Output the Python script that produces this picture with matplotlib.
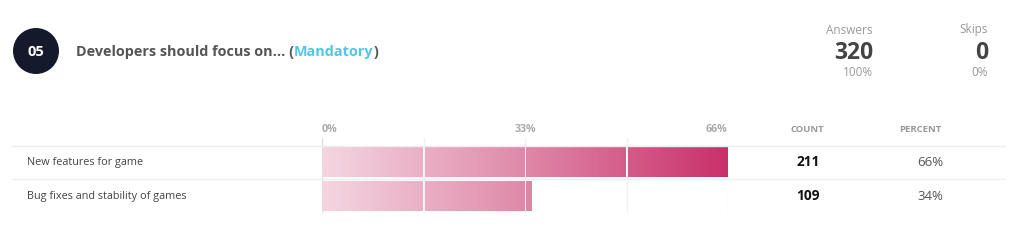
import matplotlib
matplotlib.use("Agg")
import matplotlib.pyplot as plt
import numpy as np
from matplotlib.patches import Rectangle, Ellipse
from matplotlib.lines import Line2D
from matplotlib.colors import LinearSegmentedColormap

# ---- data ----
question_no = "05"
title_main = "Developers should focus on... ("
title_tag = "Mandatory"
title_end = ")"
categories = ["New features for game", "Bug fixes and stability of games"]
counts = [211, 109]
percent_labels = ["66%", "34%"]
tick_values = [0, 33, 66]
tick_labels = ["0%", "33%", "66%"]
answers = 320
answers_pct = "100%"
skips = 0
skips_pct = "0%"

W, H = 1023, 244
plt.rcParams['font.family'] = ['Open Sans', 'DejaVu Sans']
fig = plt.figure(figsize=(W / 100, H / 100), dpi=100)
fig.patch.set_facecolor("white")


def fx(x):
    return x / W


def fy(y):
    return 1 - y / H


# ---- header: circle + title ----
fig.add_artist(Ellipse((fx(36), fy(51)), 46 / W, 46 / H, transform=fig.transFigure,
                       facecolor="#141a2b", edgecolor="none"))
fig.text(fx(36), fy(52), question_no, color="white", fontsize=10.5, fontweight="bold",
         ha="center", va="center")

ts = 10.4
t1 = fig.text(fx(76), fy(52), title_main, color="#555555", fontsize=ts,
              fontweight="bold", ha="left", va="center")
fig.canvas.draw()
r = fig.canvas.get_renderer()
bb = t1.get_window_extent(r)
t2 = fig.text(bb.x1 / W, fy(52), title_tag, color="#4ec8e6", fontsize=ts,
              fontweight="bold", ha="left", va="center")
bb2 = t2.get_window_extent(r)
fig.text(bb2.x1 / W, fy(52), title_end, color="#555555", fontsize=ts,
         fontweight="bold", ha="left", va="center")

# ---- answers / skips ----
for xr, lab, val, pct in [(873, "Answers", answers, answers_pct),
                          (988, "Skips", skips, skips_pct)]:
    fig.text(fx(xr), fy(30), lab, color="#999999", fontsize=8.5, ha="right", va="center")
    fig.text(fx(xr), fy(53), str(val), color="#444444", fontsize=16.5, fontweight="bold",
             ha="right", va="center")
    fig.text(fx(xr), fy(73), pct, color="#999999", fontsize=8.5, ha="right", va="center")

# ---- row separator lines ----
for yl in [145.5, 179]:
    fig.add_artist(Line2D([fx(12), fx(1005)], [fy(yl), fy(yl)], transform=fig.transFigure,
                          color="#eeeeee", linewidth=1))

# ---- bar axes ----
x0, x1 = 322, 728
ytop, ybot = 138, 213
ax = fig.add_axes([fx(x0), fy(ybot), (x1 - x0) / W, (ybot - ytop) / H])
row_px = 34
ax.axis("off")

quarters = np.linspace(0, tick_values[-1], 5)
for q in quarters:
    ax.axvline(q, color="#dddddd" if q == 0 else "#f2f2f2", linewidth=1, zorder=0)

cmap = LinearSegmentedColormap.from_list("pk", ["#f4d6e1", "#df88a8", "#c9306b"])
grad = cmap(np.linspace(0, 1, 512))[None, :, :]

total = sum(counts)
values = [c / total * 100 for c in counts]
gap = 0.2
bh = 30 / row_px
for i, v in enumerate(values):
    for a, b in zip(quarters[:-1], quarters[1:]):
        if v <= a:
            continue
        s = a + (gap if a > 0 else 0)
        e = b - gap if v > b - gap else v
        if b == quarters[-1]:
            e = v
        if e <= s:
            continue
        rect = Rectangle((s, i - bh / 2), e - s, bh, transform=ax.transData,
                         facecolor="none", edgecolor="none")
        ax.add_patch(rect)
        im = ax.imshow(grad, extent=(0, tick_values[-1], i + bh / 2, i - bh / 2),
                       aspect="auto", interpolation="bilinear", zorder=2)
        im.set_clip_path(rect)
ax.set_xlim(0, tick_values[-1])
ax.set_ylim((ybot - 162) / row_px, -(162 - ytop) / row_px)

# tick labels
for tv, tl in zip(tick_values, tick_labels):
    ha = "left" if tv == tick_values[0] else ("right" if tv == tick_values[-1] else "center")
    xp = x0 + (x1 - x0) * tv / tick_values[-1]
    fig.text(fx(xp), fy(130), tl, color="#aaaaaa", fontsize=7.7, fontweight="bold",
             ha=ha, va="center")

# column headers
fig.text(fx(807), fy(130), "COUNT", color="#999999", fontsize=6.8, fontweight="bold",
         ha="center", va="center")
fig.text(fx(920), fy(130), "PERCENT", color="#999999", fontsize=6.8, fontweight="bold",
         ha="center", va="center")

# rows
for i, (cat, c, p) in enumerate(zip(categories, counts, percent_labels)):
    yc = 162 + i * row_px
    fig.text(fx(27), fy(yc), cat, color="#444444", fontsize=7.8, ha="left", va="center")
    fig.text(fx(820), fy(yc), str(c), color="#111111", fontsize=9.8, fontweight="bold",
             ha="right", va="center")
    fig.text(fx(943), fy(yc), p, color="#555555", fontsize=9.5, ha="right", va="center")

fig.savefig("out.png", dpi=100, facecolor="white")
